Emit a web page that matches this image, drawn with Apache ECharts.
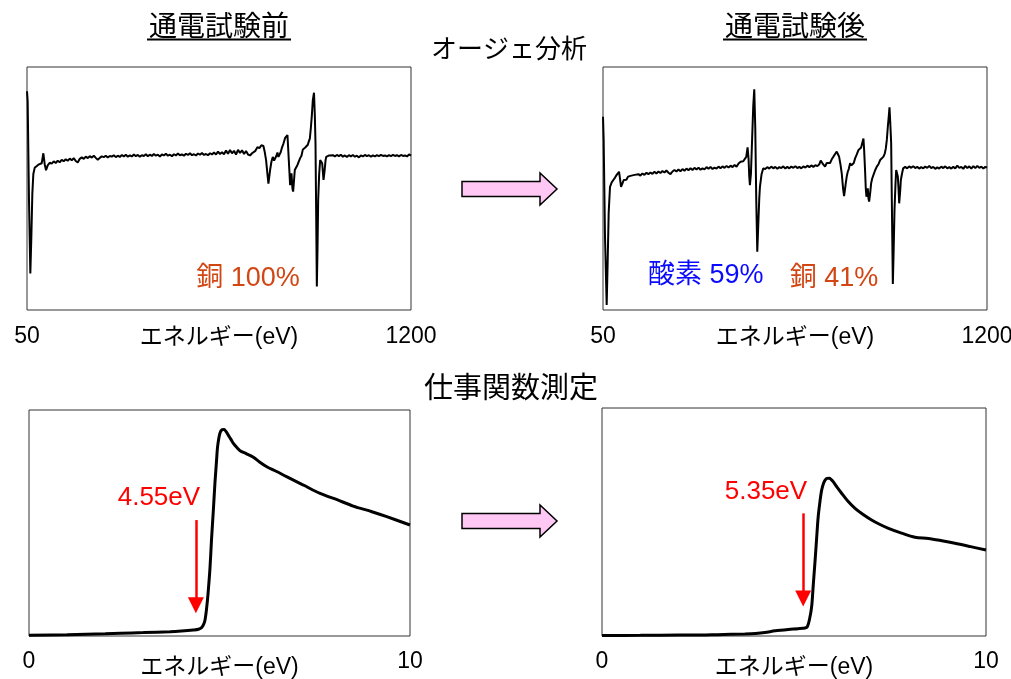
<!DOCTYPE html>
<html><head><meta charset="utf-8">
<script src="https://cdn.jsdelivr.net/npm/echarts@6/dist/echarts.min.js"></script>
<style>html,body{margin:0;padding:0;background:#fff}#c{width:1011px;height:679px}</style>
</head><body><div id="c"></div>
<script>
// ---------- DATA ----------
const augerTicks = [50, 1200];
const wfTicks = [0, 10];
const axisName = 'エネルギー(eV)';

// Auger spectrum before current test: [energy eV, intensity a.u.]
const augerBefore = [
[50,90],[52,86],[56,45],[60,15],[63,30],[66,48],[69,56],[73,58.5],[78,59.3],[84,59.8],[89,59.6],[94,60.4],[99,64.5],[103,60],[107,57.5],
[112,59.5],[118,60.6],[124,60.2],[130,61.2],[136,60.5],[142,61.4],[148,60.8],[154,61.8],[160,61.2],[166,62],[172,61.4],[178,62.3],[184,61.6],
[190,62.5],[196,61.3],[202,60.7],[208,62.2],[214,62.8],[220,62.2],[226,63.1],[232,62.5],[238,63.3],[244,62.7],[250,63.5],[256,62.6],[262,61.8],
[268,62.6],[274,63.2],[280,62.9],[286,63.5],[292,62.8],[298,63.4],[304,63.1],[310,63.7],[316,62.9],[322,63.5],[328,63.0],[334,63.8],[340,63.2],
[346,63.9],[352,63.1],[358,63.6],[364,63.2],[370,64.0],[376,63.3],[382,63.8],[388,63.1],[394,63.7],[400,63.4],[406,64.1],[412,63.3],[418,63.9],
[424,63.4],[430,64.2],[436,63.5],[442,63.9],[448,63.2],[454,64.0],[460,63.6],[466,64.3],[472,63.5],[478,63.9],[484,63.3],[490,64.1],[496,63.6],
[502,64.4],[508,63.7],[514,64.0],[520,63.5],[526,64.3],[532,63.8],[538,64.5],[544,63.7],[550,64.1],[556,63.6],[562,64.4],[568,63.9],[574,64.6],
[580,63.8],[586,64.2],[592,63.7],[598,64.5],[604,64.0],[610,64.8],[616,64.0],[622,65.2],[628,64.2],[634,64.9],[640,64.1],[646,65.6],[652,64.3],
[658,65.8],[664,64.5],[670,65.5],[676,64.0],[682,65.9],[688,64.6],[694,65.7],[700,64.2],[706,65.4],[712,64.0],[718,63.6],[724,64.5],[728,63.8],
[734,65.5],[740,67],[746,66.6],[752,67.8],[758,67.5],[762,65],[766,61.7],[770,56],[773,52],[778,57.6],[782,61],[786,63],[790,61.5],[793,61],
[797,63.5],[800,64.8],[803,63],[806,62.5],[810,65],[813,66.6],[818,68.5],[823,70.8],[827,71],[830,72],[832,67],[834,61.7],[838,51.4],[840,53],
[842,56.2],[845,50],[847,48.7],[850,54],[852,57.6],[856,58],[860,59.7],[864,60.5],[868,62.5],[872,63.5],[876,66],[880,65.5],[884,67],[888,66.5],
[891,68],[894,69.4],[897,70.5],[900,74.8],[903,80],[906,86.4],[909.5,89.4],[912,80],[914,68.6],[916,40],[918,9.7],[920,25],[922,45.3],[925,56],
[928,61.7],[931,61.5],[934,60.4],[936,57],[938,53.5],[941,57],[944,61.5],[946,63],[950,63.3],[955,63.6],[960,63.1],[966,63.7],[972,63.2],
[978,63.8],[984,63.3],[990,63.9],[996,63.1],[1002,63.6],[1008,63.0],[1014,63.7],[1020,63.2],[1026,63.8],[1032,63.1],[1038,63.5],[1044,62.8],
[1050,63.6],[1056,63.2],[1062,63.8],[1068,63.3],[1074,63.7],[1080,63.1],[1086,63.6],[1092,63.2],[1098,63.7],[1104,63.3],[1110,63.8],[1116,63.4],
[1122,63.6],[1128,63.2],[1134,63.7],[1140,63.3],[1146,63.8],[1152,63.4],[1158,63.7],[1164,63.2],[1170,63.8],[1176,63.4],[1182,63.6],[1188,63.2],
[1194,64.0],[1200,63.5]
];

// Auger spectrum after current test
const augerAfter = [
[50,79.5],[52,70],[56,30],[61,2.1],[64,20],[67,40],[71,50.7],[76,52.5],[81,53.5],[86,54.5],[91,55.6],[95,55],[98,56.9],[101,54],[104,50.7],
[108,52],[112,53.5],[116,54.2],[120,53.6],[125,54.9],[130,54.3],[135,55.3],[140,54.7],[145,55.6],[150,55],[156,55.9],[162,55.3],[168,56.2],
[174,55.6],[180,56.5],[186,55.9],[192,56.6],[198,56],[204,56.9],[210,56.2],[216,57],[222,56.4],[228,57.2],[234,56.6],[240,57.4],[246,56.5],
[252,55.9],[258,57.0],[264,57.6],[270,57.0],[276,57.8],[282,57.1],[288,58.0],[294,57.3],[300,58.2],[306,57.5],[312,58.3],[318,57.6],[324,58.5],
[330,57.8],[336,58.6],[342,57.7],[348,58.3],[354,57.9],[360,58.8],[366,58.1],[372,58.9],[378,58.0],[384,58.6],[390,58.2],[396,59.0],[402,58.3],
[408,59.1],[414,58.5],[420,59.3],[426,58.6],[432,59.4],[438,58.8],[444,59.7],[450,59.0],[456,60.3],[462,61.0],[466,60.5],[470,61.2],[475,61.7],
[479,63],[483,66.9],[486,62],[488,55],[490,51.4],[493,56],[496,68],[500,84],[503,90.8],[506,75],[509,45],[512,24],[515,35],[518,46],[520,50.7],
[525,56],[530,58.3],[536,58.0],[542,58.8],[548,58.2],[554,59.0],[560,58.3],[566,58.9],[572,58.1],[578,58.8],[584,58.4],[590,59.1],[596,58.2],
[602,58.9],[608,58.3],[614,59.0],[620,58.5],[626,59.2],[632,58.4],[638,58.9],[644,58.3],[650,59.1],[656,58.6],[662,59.4],[668,58.8],[674,59.5],
[680,58.9],[686,59.6],[692,59.2],[698,60.0],[702,61.5],[705,62],[709,60],[715,59],[720,60.5],[725,61],[730,60.5],[735,62],[740,63.1],[745,62.5],
[750,65.2],[754,64],[757,63.1],[761,60],[765,56.2],[769,50],[772,46.9],[775,50],[777,52.1],[780,55],[783,56.9],[786,58],[790,60.4],[794,59.5],
[797,59],[801,60.5],[805,62.4],[810,64],[815,65.8],[819,66],[823,66.9],[827,69],[830,70.6],[832,66],[835,56.9],[837,50],[839,46.6],[841,47.5],
[843,50.1],[845,46],[847,44.6],[850,48],[853,52.1],[856,54],[860,55.6],[865,57.5],[870,59],[875,60],[880,61.7],[885,62],[890,63.1],[894,64.5],
[897,66.5],[900,70],[903,75.4],[906,80],[908,83.4],[910,78],[913,68.6],[915,45],[918,10.7],[920,22],[923,41.2],[926,52],[928,57.6],[931,58],
[933,54.9],[935,50],[937,43.9],[940,49],[942,53.5],[946,56.5],[949,58.3],[955,58.9],[961,58.3],[967,59.1],[973,58.5],[979,59.2],[985,58.4],
[991,58.9],[997,58.2],[1003,58.8],[1009,58.3],[1015,59.0],[1021,58.5],[1027,59.3],[1033,58.4],[1039,58.9],[1045,58.1],[1051,58.7],[1057,58.2],
[1063,59.0],[1069,58.4],[1075,59.1],[1081,58.3],[1087,58.8],[1093,58.2],[1099,58.9],[1105,58.3],[1111,59.4],[1117,58.5],[1123,58.9],[1129,58.1],
[1135,59.3],[1141,58.4],[1147,59.1],[1153,58.2],[1159,59.2],[1165,58.4],[1171,59.3],[1177,58.5],[1183,59.0],[1189,58.2],[1195,58.9],[1200,58.6]
];

// Work function (photoemission yield) before current test
const wfBefore = [
[0,0.3],[1,0.6],[2,1.0],[2.4,1.2],[3,1.5],[3.7,1.9],[4.0,2.2],[4.31,2.65],[4.45,3.0],[4.53,3.7],[4.58,5],[4.62,7.1],[4.66,12],[4.70,18.9],
[4.75,30],[4.79,42.5],[4.84,56],[4.88,67.6],[4.92,77],[4.95,83.8],[5.01,89.7],[5.07,91.3],[5.12,91.4],[5.17,90.5],[5.23,88.9],[5.30,87],
[5.36,85.3],[5.45,83.5],[5.54,82],[5.7,80.7],[5.89,79.1],[6.05,77],[6.24,74.9],[6.5,72.8],[6.76,70.5],[7.2,66.8],[7.64,63.1],[8.1,60.2],
[8.51,57.5],[9.0,55],[9.39,52.8],[10,49.1]
];
// Work function after current test
const wfAfter = [
[0,0.2],[1,0.3],[2,0.4],[2.42,0.4],[3.0,0.6],[3.72,0.9],[4.0,1.1],[4.24,1.5],[4.51,2.3],[4.85,2.9],[5.1,3.2],[5.29,3.5],[5.35,4.2],[5.40,7],
[5.46,12.9],[5.50,22],[5.55,33.3],[5.59,43],[5.63,52.3],[5.68,59.5],[5.72,64],[5.77,67],[5.81,68.4],[5.86,69.1],[5.92,69.2],[5.97,68.6],
[6.02,67.7],[6.12,65.3],[6.24,62.6],[6.4,59.2],[6.59,56],[6.8,53.3],[7.02,50.9],[7.24,48.9],[7.46,47.2],[7.8,45.1],[8.15,43.3],[8.5,42.8],
[8.85,41.8],[9.19,40.7],[9.6,39.2],[10,37.7]
];

// annotations: [x, y] in data units
const wfArrowBefore = [[4.38, 51.3], [4.38, 13.6]];
const wfArrowAfter = [[5.24, 53.8], [5.24, 16.4]];
const wfLabelBefore = {text: '4.55eV', at: [3.41, 61.3]};
const wfLabelAfter = {text: '5.35eV', at: [4.27, 63.4]};
const compBefore = [{text: '銅 100%', at: [712, 12.8], color: '#d24614'}];
const compAfter = [{text: '酸素 59%', at: [358, 14], color: '#0a0aff'}, {text: '銅 41%', at: [742, 12.8], color: '#d24614'}];

// ---------- CHART ----------
const FONT = '"Liberation Sans", "Noto Sans CJK JP", sans-serif';
const chart = echarts.init(document.getElementById('c'), null, {renderer: 'canvas'});

const grids = [
  {left: 27, top: 67, width: 384, height: 243},
  {left: 603, top: 67, width: 384, height: 243},
  {left: 29, top: 410, width: 381, height: 226},
  {left: 602, top: 408, width: 384, height: 228}
].map(g => Object.assign({show: true, borderColor: '#333', borderWidth: 1, backgroundColor: 'transparent',
  containLabel: false, outerBoundsMode: 'none'}, g));

function xAx(i, ticks, margin, gap) {
  return {
    type: 'value', gridIndex: i, min: ticks[0], max: ticks[ticks.length - 1],
    axisLine: {show: false}, axisTick: {show: false}, splitLine: {show: false},
    axisLabel: {customValues: ticks, formatter: v => String(v), color: '#000', fontSize: 23, fontFamily: FONT, margin: margin,
      hideOverlap: false},
    name: axisName, nameLocation: 'middle', nameGap: gap, nameMoveOverlap: false,
    nameTextStyle: {color: '#000', fontSize: 23, fontFamily: FONT}
  };
}
function yAx(i) {
  return {type: 'value', gridIndex: i, min: 0, max: 100, show: false};
}
function textPoints(list, size) {
  return {
    symbol: 'rect', symbolSize: 1, itemStyle: {color: 'rgba(0,0,0,0)'}, animation: false,
    data: list.map(d => ({coord: d.at, value: d.text,
      label: {show: true, position: 'inside', formatter: d.text, color: d.color || '#ff0000',
        fontSize: size, fontFamily: FONT}}))
  };
}
function arrowLine(pts) {
  return {
    silent: true, symbol: ['none', 'triangle'], symbolSize: 16,
    lineStyle: {color: '#ff0000', width: 2.5, type: 'solid'},
    itemStyle: {color: '#ff0000'},
    label: {show: false},
    data: [[{coord: pts[0]}, {coord: pts[1]}]]
  };
}

function pinkArrow(cy) {
  return {
    type: 'polygon',
    shape: {points: [[462, cy - 7.5], [540, cy - 7.5], [540, cy - 16], [557, cy], [540, cy + 16], [540, cy + 7.5], [462, cy + 7.5]]},
    style: {fill: '#ffc8f4', stroke: '#000', lineWidth: 1.5}
  };
}
function label(text, x, y, size) {
  return {type: 'text', x: x, y: y, style: {text: text, fontSize: size, fontFamily: '"Noto Sans CJK JP", sans-serif',
    fill: '#000', align: 'center', verticalAlign: 'middle', textAlign: 'center', textVerticalAlign: 'middle'}};
}

chart.setOption({
  animation: false,
  backgroundColor: '#fff',
  grid: grids,
  xAxis: [xAx(0, augerTicks, 15, 16), xAx(1, augerTicks, 15, 16), xAx(2, wfTicks, 14, 20), xAx(3, wfTicks, 14, 20)],
  yAxis: [yAx(0), yAx(1), yAx(2), yAx(3)],
  series: [
    {type: 'line', xAxisIndex: 0, yAxisIndex: 0, data: augerBefore, showSymbol: false,
      lineStyle: {color: '#000', width: 2}, markPoint: textPoints(compBefore, 27)},
    {type: 'line', xAxisIndex: 1, yAxisIndex: 1, data: augerAfter, showSymbol: false,
      lineStyle: {color: '#000', width: 2}, markPoint: textPoints(compAfter, 27)},
    {type: 'line', xAxisIndex: 2, yAxisIndex: 2, data: wfBefore, showSymbol: false, smooth: 0.3,
      lineStyle: {color: '#000', width: 3}, markLine: arrowLine(wfArrowBefore), markPoint: textPoints([wfLabelBefore], 26)},
    {type: 'line', xAxisIndex: 3, yAxisIndex: 3, data: wfAfter, showSymbol: false, smooth: 0.3,
      lineStyle: {color: '#000', width: 3}, markLine: arrowLine(wfArrowAfter), markPoint: textPoints([wfLabelAfter], 26)}
  ],
  graphic: [
    label('通電試験前', 219, 25, 28),
    {type: 'line', shape: {x1: 147, y1: 39.5, x2: 291, y2: 39.5}, style: {stroke: '#000', lineWidth: 2}},
    label('通電試験後', 795, 25, 28),
    {type: 'line', shape: {x1: 723, y1: 39.5, x2: 867, y2: 39.5}, style: {stroke: '#000', lineWidth: 2}},
    label('オージェ分析', 509, 48, 26),
    label('仕事関数測定', 511, 387, 29),
    pinkArrow(189),
    pinkArrow(521)
  ]
});
</script></body></html>
